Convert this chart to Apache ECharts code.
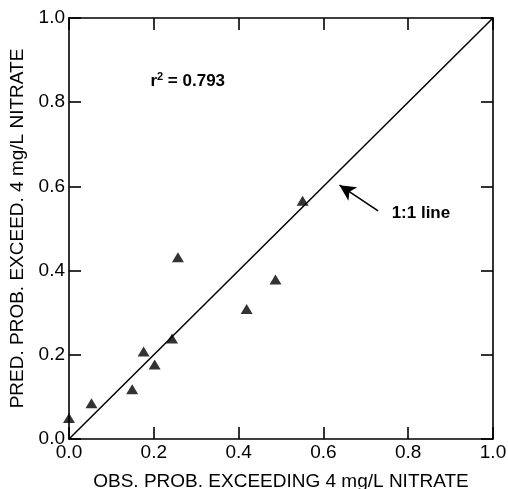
<!DOCTYPE html>
<html><head><meta charset="utf-8">
<script src="https://cdn.jsdelivr.net/npm/echarts@6/dist/echarts.min.js"></script>
<style>html,body{margin:0;padding:0;background:#fff}#c{width:508px;height:489px}</style>
</head><body><div id="c"></div>
<script>
var obsProb = [0.0, 0.053, 0.149, 0.176, 0.202, 0.243, 0.257, 0.419, 0.487, 0.551];
var predProb = [0.05, 0.085, 0.118, 0.208, 0.177, 0.239, 0.432, 0.309, 0.379, 0.566];
var oneToOne = [[0, 0], [1, 1]];
var tickValues = [0, 0.2, 0.4, 0.6, 0.8, 1.0];
var r2Text = 'r{sup|2} = 0.793';
var r2Pos = [0.28, 0.85];
var lineLabelText = '1:1 line';
var lineLabelPos = [0.83, 0.535];
var arrowFrom = [0.729, 0.542];
var arrowTo = [0.638, 0.603];

var FONT = 'Liberation Sans, Arial, Helvetica, sans-serif';
var chart = echarts.init(document.getElementById('c'));
function axisBase(pos, showLabel, name) {
  return {
    type: 'value', min: 0, max: 1, interval: 0.2, position: pos,
    name: name || '', nameLocation: 'middle',
    nameTextStyle: {fontFamily: FONT, fontSize: 19, color: '#000'},
    axisLine: {show: true, onZero: false, lineStyle: {color: '#000', width: 1.6}},
    axisTick: {show: true, inside: true, length: 12, lineStyle: {color: '#000', width: 1.6}},
    axisLabel: {show: showLabel, fontFamily: FONT, fontSize: 19, color: '#000',
      formatter: function (v) { return v.toFixed(1); }},
    splitLine: {show: false}
  };
}
var xa = axisBase('bottom', true, 'OBS. PROB. EXCEEDING 4 mg/L NITRATE');
xa.nameGap = 33; xa.axisLabel.margin = 4;
var xt = axisBase('top', false);
var ya = axisBase('left', true, 'PRED. PROB. EXCEED. 4 mg/L NITRATE');
ya.nameGap = 42; ya.axisLabel.margin = 4;
var yr = axisBase('right', false);

chart.setOption({
  animation: false,
  grid: {left: 69, right: 15, top: 18, bottom: 50, outerBoundsMode: 'none', containLabel: false},
  xAxis: [xa, xt],
  yAxis: [ya, yr],
  series: [
    {type: 'line', data: oneToOne, symbol: 'none', lineStyle: {color: '#000', width: 1.5},
     markLine: {silent: true, symbol: ['none', 'arrow'], symbolSize: [12, 16],
       lineStyle: {color: '#000', width: 1.6, type: 'solid'}, label: {show: false},
       data: [[{coord: arrowFrom}, {coord: arrowTo}]]}},
    {type: 'scatter', data: obsProb.map(function (x, i) { return [x, predProb[i]]; }),
     symbol: 'triangle', symbolSize: [12, 10], itemStyle: {color: '#000'}}
  ]
});
function txt(pos, text) {
  var p = chart.convertToPixel({gridIndex: 0}, pos);
  return {type: 'text', x: p[0], y: p[1], silent: true,
    style: {text: text, fill: '#000', font: 'bold 17px ' + FONT, align: 'center', verticalAlign: 'middle',
      rich: {sup: {font: 'bold 11px ' + FONT, fill: '#000', verticalAlign: 'top', padding: [0, 0, 8, 0]}}}};
}
chart.setOption({graphic: [txt(r2Pos, r2Text), txt(lineLabelPos, lineLabelText)]});
</script></body></html>
